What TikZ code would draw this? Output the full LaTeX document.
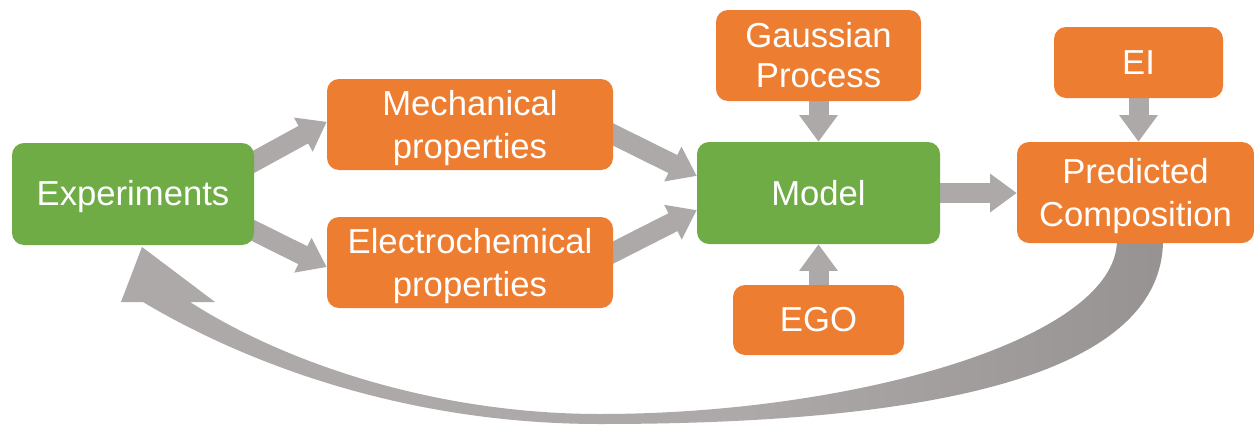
\documentclass[tikz,border=0pt]{standalone}
\usepackage{fontspec}
\setmainfont{Liberation Sans}
\usetikzlibrary{arrows.meta,calc}
\pgfdeclarelayer{background}
\pgfsetlayers{background,main}
\definecolor{boxgreen}{RGB}{111,172,70}
\definecolor{boxorange}{RGB}{237,125,49}
\definecolor{flowgrey}{RGB}{172,169,168}
\definecolor{flowdark}{RGB}{136,132,131}
\pgfdeclarehorizontalshading{returnshade}{100bp}{color(0bp)=(flowgrey); color(55bp)=(flowgrey); color(88bp)=(flowdark); color(100bp)=(flowdark)}

\begin{document}
\begin{tikzpicture}[x=0.75pt,y=-0.75pt,
  box/.style={rounded corners=9pt, text=white, align=center,
              font=\fontsize{26}{32}\selectfont, inner sep=0pt},
  greenbox/.style={box, fill=boxgreen},
  orangebox/.style={box, fill=boxorange},
  twoline/.style={text depth=-0.5pt},
  flow/.style={draw=flowgrey, line width=15pt,
               -{Triangle[width=27.75pt,length=20pt]}},
]
\useasboundingbox (0,0) rectangle (1254,425);

% process boxes
\node[greenbox, text height=22pt, minimum width=181.5pt, minimum height=76.5pt] (exp) at (133,194) {Experiments};
\node[orangebox, twoline, minimum width=214.5pt, minimum height=68.25pt] (mech) at (470,124.5) {Mechanical\\properties};
\node[orangebox, twoline, minimum width=214.5pt, minimum height=68.25pt] (elec) at (470,262.5) {Electrochemical\\properties};
\node[greenbox, minimum width=182.25pt, minimum height=76.5pt] (model) at (818.5,193) {Model};
\node[orangebox, font=\fontsize{26}{30}\selectfont, minimum width=153.75pt, minimum height=68.25pt] (gp) at (818.5,55.5) {Gaussian\\Process};
\node[orangebox, minimum width=128.25pt, minimum height=52.5pt] (ego) at (818.5,320) {EGO};
\node[orangebox, minimum width=126.75pt, minimum height=53.25pt] (ei) at (1138.5,62.5) {EI};
\node[orangebox, twoline, minimum width=177.75pt, minimum height=75.75pt] (pred) at (1135.5,192.5) {Predicted\\Composition};

% block arrows, kept behind the boxes
\begin{pgfonlayer}{background}
\fill[white] (0,0) rectangle (1254,425);
\draw[flow, shorten <=-8pt] (exp.15) -- ([yshift=2pt]mech.west);
\draw[flow, shorten <=-8pt] (exp.-17) -- ([yshift=-3.4pt]elec.west);
\draw[flow, shorten <=-8pt] (mech.-4) -- (model.172);
\draw[flow, shorten <=-8pt] (elec.4) -- (model.188);
\draw[flow] (gp.south) -- (model.north);
\draw[flow] (ego.north) -- (model.south);
\draw[flow] (ei.south) -- (ei.south |- pred.north);
\draw[flow] (model.east) -- (model.east -| pred.west);

% feedback arrow from the prediction back to the experiments
\shade[shading=returnshade]
  (1163,240) .. controls (1163,370) and (950,424) .. (600,424)
  .. controls (400,424) and (240,360) .. (143,302)
  -- (121,302) -- (142,247) -- (215,302) -- (190,302)
  .. controls (280,360) and (430,414) .. (600,414)
  .. controls (850,414) and (1117,340) .. (1117,240) -- cycle;
\end{pgfonlayer}
\end{tikzpicture}
\end{document}
